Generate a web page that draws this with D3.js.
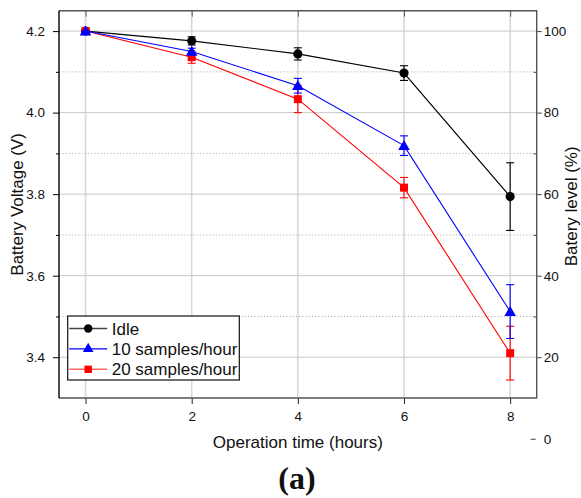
<!DOCTYPE html>
<html>
<head>
<meta charset="utf-8">
<script src="https://cdn.jsdelivr.net/npm/d3@7"></script>
<style>
  body { margin: 0; background: #fff; }
  svg text { font-family: "Liberation Sans", Arial, sans-serif; fill: #111; }
</style>
</head>
<body>
<div id="chart"></div>
<script>
// data
const hours = [0, 2, 4, 6, 8];
const seriesNames = ["Idle", "10 samples/hour", "20 samples/hour"];
const idleVolt = [4.200, 4.176, 4.144, 4.097, 3.794];
const idleErr = [0, 0.010, 0.015, 0.018, 0.083];
const s10Volt = [4.200, 4.150, 4.066, 3.919, 3.512];
const s10Err = [0, 0.008, 0.018, 0.024, 0.066];
const s20Volt = [4.200, 4.136, 4.033, 3.816, 3.410];
const s20Err = [0, 0.015, 0.033, 0.025, 0.066];
const leftTicks = [3.4, 3.6, 3.8, 4.0, 4.2];
const leftMinor = [3.5, 3.7, 3.9, 4.1];
const rightTicks = [0, 20, 40, 60, 80, 100];
const rightMinor = [30, 50, 70, 90];

const width = 581, height = 498;
const margin = { top: 10.7, right: 44.3, bottom: 100, left: 59 };
const innerBottom = height - margin.bottom;
const innerRight = width - margin.right;

const svg = d3.select("#chart").append("svg")
    .attr("width", width)
    .attr("height", height);

const xScale = d3.scaleLinear().domain([-0.5, 8.5]).range([margin.left, innerRight]);
const yScale = d3.scaleLinear().domain([3.3, 4.25]).range([innerBottom, margin.top]);
// right axis is the same line in percent: 100% = 4.2 V, 20% = 3.4 V
const yRight = d3.scaleLinear().domain([10, 105]).range([innerBottom, margin.top]);

// + GRID
svg.append("g").selectAll("line.vgrid")
    .data(hours)
    .join("line")
    .attr("x1", d => xScale(d)).attr("x2", d => xScale(d))
    .attr("y1", margin.top).attr("y2", innerBottom)
    .attr("stroke", "#d9d9d9").attr("stroke-width", 1.6);

svg.append("g").selectAll("line.hgrid")
    .data(leftTicks)
    .join("line")
    .attr("x1", margin.left).attr("x2", innerRight)
    .attr("y1", d => yScale(d)).attr("y2", d => yScale(d))
    .attr("stroke", "#c8c8c8").attr("stroke-width", 1);

svg.append("g").selectAll("line.mgrid")
    .data(leftMinor)
    .join("line")
    .attr("x1", margin.left).attr("x2", innerRight)
    .attr("y1", d => yScale(d)).attr("y2", d => yScale(d))
    .attr("stroke", "#b5b5b5").attr("stroke-width", 1)
    .attr("stroke-dasharray", "1.2,2");

// + AXES
const xAxis = d3.axisBottom(xScale).tickValues(hours).tickSize(6).tickSizeOuter(0).tickPadding(7);
const xTop = d3.axisTop(xScale).tickValues(hours).tickSize(-6).tickSizeOuter(0).tickFormat("");
const yAxis = d3.axisLeft(yScale).tickValues(leftTicks).tickSize(6).tickSizeOuter(0).tickFormat(d3.format(".1f")).tickPadding(8);
const yMinor = d3.axisLeft(yScale).tickValues(leftMinor).tickSize(3).tickSizeOuter(0).tickFormat("");
const yRAxis = d3.axisRight(yRight).tickValues(rightTicks).tickSize(5).tickSizeOuter(0).tickPadding(2);
const yRMinor = d3.axisRight(yRight).tickValues(rightMinor).tickSize(-3).tickSizeOuter(0).tickFormat("");

function styleAxis(g, col) {
    g.select(".domain").remove();
    g.selectAll(".tick line").attr("stroke", col).attr("stroke-width", 1);
    g.selectAll(".tick text").attr("font-size", 13.5).attr("fill", "#111")
        .attr("font-family", "Liberation Sans, Arial, sans-serif");
}

svg.append("g").attr("transform", `translate(0,${innerBottom})`).call(xAxis).call(g => styleAxis(g, "#222"));
svg.append("g").attr("transform", `translate(0,${margin.top})`).call(xTop).call(g => styleAxis(g, "#555"));
svg.append("g").attr("transform", `translate(${margin.left},0)`).call(yAxis).call(g => styleAxis(g, "#000"));
svg.append("g").attr("transform", `translate(${margin.left},0)`).call(yMinor).call(g => styleAxis(g, "#000"));
svg.append("g").attr("transform", `translate(${innerRight},0)`).call(yRAxis).call(g => styleAxis(g, "#444"))
    .selectAll(".tick")
    .filter(d => d === 0)
    .select("line").attr("x1", -6).attr("x2", -1); // the stray 0 tick sits below the frame
svg.append("g").attr("transform", `translate(${innerRight},0)`).call(yRMinor).call(g => styleAxis(g, "#444"));

// frame
svg.append("path")
    .attr("d", `M${margin.left},${margin.top}H${innerRight}V${innerBottom}H${margin.left}`)
    .attr("fill", "none").attr("stroke", "#555").attr("stroke-width", 1.4);
svg.append("line")
    .attr("x1", margin.left).attr("x2", margin.left)
    .attr("y1", margin.top).attr("y2", innerBottom)
    .attr("stroke", "#000").attr("stroke-width", 1.4);

// + SERIES
const series = [
    { name: seriesNames[0], volt: idleVolt, err: idleErr, color: "#000000", legendColor: "#444", symbol: d3.symbolCircle, size: 66 },
    { name: seriesNames[2], volt: s20Volt, err: s20Err, color: "#ff0000", legendColor: "#f66", symbol: d3.symbolSquare, size: 64 },
    { name: seriesNames[1], volt: s10Volt, err: s10Err, color: "#0000ff", legendColor: "#0000ff", symbol: d3.symbolTriangle, size: 58 }
];

const lineFunc = d3.line()
    .x(d => xScale(d.h))
    .y(d => yScale(d.v));

series.forEach(s => {
    const pts = hours.map((h, i) => ({ h: h, v: s.volt[i], e: s.err[i] }));
    const g = svg.append("g");

    g.append("path")
        .datum(pts)
        .attr("d", lineFunc)
        .attr("fill", "none")
        .attr("stroke", s.color)
        .attr("stroke-width", 1.1);

    // error bars
    const eb = g.selectAll("g.err")
        .data(pts.filter(d => d.e > 0))
        .join("g");
    eb.append("line")
        .attr("x1", d => xScale(d.h)).attr("x2", d => xScale(d.h))
        .attr("y1", d => yScale(d.v - d.e)).attr("y2", d => yScale(d.v + d.e))
        .attr("stroke", s.color).attr("stroke-width", 1.1);
    eb.selectAll("line.cap")
        .data(d => [d.v - d.e, d.v + d.e].map(v => ({ h: d.h, v: v })))
        .join("line")
        .attr("class", "cap")
        .attr("x1", d => xScale(d.h) - 4).attr("x2", d => xScale(d.h) + 4)
        .attr("y1", d => yScale(d.v)).attr("y2", d => yScale(d.v))
        .attr("stroke", s.color).attr("stroke-width", 1.1);

    g.selectAll("path.mark")
        .data(pts)
        .join("path")
        .attr("class", "mark")
        .attr("d", d3.symbol(s.symbol, s.size))
        .attr("transform", d => `translate(${xScale(d.h)},${yScale(d.v) + (s.symbol === d3.symbolTriangle ? 1 : 0)})`)
        .attr("fill", s.color);
});

// + LEGEND
const legendOrder = [series[0], series[2], series[1]];
const legend = svg.append("g").attr("transform", "translate(67.7,316)");
legend.append("rect")
    .attr("width", 171.6).attr("height", 64)
    .attr("fill", "#fff").attr("stroke", "#111").attr("stroke-width", 1.2);
const rows = legend.selectAll("g.row")
    .data(legendOrder)
    .join("g")
    .attr("transform", (d, i) => `translate(0,${12.5 + i * 20.4})`);
rows.append("line")
    .attr("x1", 1.5).attr("x2", 39.5)
    .attr("stroke", d => d.legendColor).attr("stroke-width", 1.4);
rows.append("path")
    .attr("d", d => d3.symbol(d.symbol, d.size * 0.85)())
    .attr("transform", "translate(20.5,0)")
    .attr("fill", d => d.color);
rows.append("text")
    .attr("x", 44).attr("y", 6)
    .attr("font-size", 17)
    .text(d => d.name);

// + TITLES
svg.append("text")
    .attr("transform", `translate(23,${(margin.top + innerBottom) / 2}) rotate(-90)`)
    .attr("text-anchor", "middle")
    .attr("font-size", 17)
    .text("Battery Voltage (V)");

svg.append("text")
    .attr("transform", `translate(577,${(margin.top + innerBottom) / 2 + 2}) rotate(-90)`)
    .attr("text-anchor", "middle")
    .attr("font-size", 17)
    .text("Batery level (%)");

svg.append("text")
    .attr("x", (margin.left + innerRight) / 2)
    .attr("y", 447.5)
    .attr("text-anchor", "middle")
    .attr("font-size", 17)
    .text("Operation time (hours)");

svg.append("text")
    .attr("x", 297)
    .attr("y", 489)
    .attr("text-anchor", "middle")
    .attr("font-size", 32)
    .attr("font-weight", "bold")
    .style("font-family", "'Liberation Serif', 'Times New Roman', serif")
    .text("(a)");
</script>
</body>
</html>
